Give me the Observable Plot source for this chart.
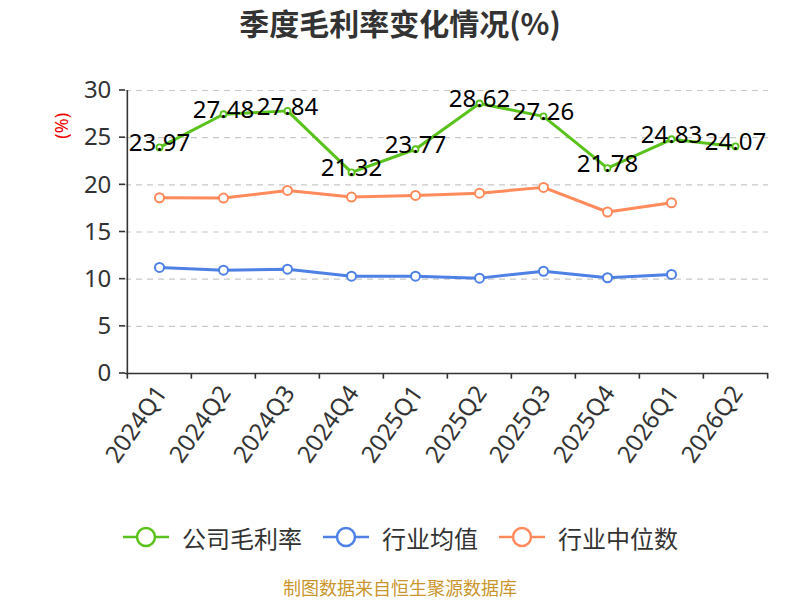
<!DOCTYPE html>
<html><head><meta charset="utf-8">
<script src="https://cdn.jsdelivr.net/npm/d3@7"></script>
<script src="https://cdn.jsdelivr.net/npm/@observablehq/plot@0.6"></script>
<style>
body{margin:0;background:#fff;font-family:"Noto Sans","Noto Sans CJK SC",sans-serif;width:800px;}
#title{height:45px;line-height:44px;text-align:center;font-size:30px;font-weight:bold;color:#333;font-family:"Noto Sans CJK SC",sans-serif;}
#legend{height:44px;display:flex;justify-content:center;align-items:center;gap:0;font-size:24px;color:#333;font-family:"Noto Sans CJK SC",sans-serif;}
.item{display:flex;align-items:center;margin:0 10px;}
.item svg{margin-right:12px;}
#footer{text-align:center;font-size:18px;color:#c9962c;margin-top:15px;font-family:"Noto Sans CJK SC",sans-serif;}
</style></head>
<body>
<div id="title">季度毛利率变化情况(%)</div>
<div id="chart"></div>
<div id="legend"></div>
<div id="footer">制图数据来自恒生聚源数据库</div>
<script>
const quarters = ["2024Q1","2024Q2","2024Q3","2024Q4","2025Q1","2025Q2","2025Q3","2025Q4","2026Q1","2026Q2"];
const companyMargin = [23.97,27.48,27.84,21.32,23.77,28.62,27.26,21.78,24.83,24.07];
const industryAvg = [11.24,10.95,11.06,10.32,10.32,10.11,10.84,10.15,10.50];
const industryMedian = [18.63,18.60,19.41,18.70,18.88,19.12,19.73,17.12,18.10];
const seriesNames = ["公司毛利率","行业均值","行业中位数"];
const colors = ["#5ac21c","#4e80e6","#ff8a5b"];
const yTicks = [0,5,10,15,20,25,30];

const comp = quarters.map((q,i)=>({q, v: companyMargin[i]}));
const avg = industryAvg.map((v,i)=>({q: quarters[i], v}));
const med = industryMedian.map((v,i)=>({q: quarters[i], v}));

const W = 800, H = 470, mL = 125, mR = 32, mT = 45, mB = 142;
const half = (W - mL - mR) / quarters.length / 2;
const font = '"Noto Sans","Noto Sans CJK SC",sans-serif';

const chart = Plot.plot({
  width: W, height: H,
  marginLeft: mL, marginRight: mR, marginTop: mT, marginBottom: mB,
  style: {fontFamily: font, background: "#fff", overflow: "visible"},
  x: {type: "point", domain: quarters, padding: 0.5, axis: null},
  y: {domain: [0,30], axis: null},
  marks: [
    Plot.ruleY(yTicks.filter(d=>d>0), {stroke: "#c8c8c8", strokeDasharray: "6,5", strokeWidth: 1.2}),
    Plot.ruleY([0], {stroke: "#333", strokeWidth: 1.6}),
    Plot.ruleX([quarters[0]], {y1: 0, y2: 30, dx: -half, stroke: "#333", strokeWidth: 1.6}),
    Plot.ruleX(quarters, {y1: 0, y2: -0.6, dx: -half, stroke: "#333", strokeWidth: 1.6}),
    Plot.ruleX([quarters[quarters.length-1]], {y1: 0, y2: -0.6, dx: half, stroke: "#333", strokeWidth: 1.6}),
    Plot.text(yTicks, {x: () => quarters[0], y: d=>d, text: d=>String(d), dx: -half - 16, textAnchor: "end", fontSize: 24, fill: "#333"}),
    Plot.text(quarters, {x: d=>d, y: 0, text: d=>d, dy: 15, dx: 2, rotate: -55, textAnchor: "end", lineAnchor: "middle", fontSize: 24, fill: "#333"}),
    Plot.line(med, {x: "q", y: "v", stroke: colors[2], strokeWidth: 3}),
    Plot.line(avg, {x: "q", y: "v", stroke: colors[1], strokeWidth: 3}),
    Plot.line(comp, {x: "q", y: "v", stroke: colors[0], strokeWidth: 3}),
    Plot.dot(med, {x: "q", y: "v", r: 4.5, fill: "#fff", stroke: colors[2], strokeWidth: 2}),
    Plot.dot(avg, {x: "q", y: "v", r: 4.5, fill: "#fff", stroke: colors[1], strokeWidth: 2}),
    Plot.dot(comp, {x: "q", y: "v", r: 3, fill: "#fff", stroke: colors[0], strokeWidth: 1.8}),
    Plot.text(comp, {x: "q", y: "v", text: d=>d.v.toFixed(2), dy: -4, fontSize: 24, fill: "#000", lineAnchor: "middle"})
  ]
});
document.getElementById("chart").appendChild(chart);

const ys = chart.scale("y");
const svg = d3.select(chart);
yTicks.forEach(t=>{
  svg.append("line").attr("x1", mL-6).attr("x2", mL).attr("y1", ys.apply(t)).attr("y2", ys.apply(t))
    .attr("stroke","#333").attr("stroke-width",1.6);
});
svg.append("text").attr("transform", `translate(${mL-62},${ys.apply(26.2)}) rotate(-90)`)
  .attr("text-anchor","middle").attr("dominant-baseline","middle")
  .attr("fill","#e00").attr("font-size",18).attr("font-family",font).text("(%)");

const leg = document.getElementById("legend");
seriesNames.forEach((n,i)=>{
  const d = document.createElement("div"); d.className = "item";
  d.innerHTML = `<svg width="48" height="24"><line x1="1" x2="47" y1="12" y2="12" stroke="${colors[i]}" stroke-width="2.5"/><circle cx="24" cy="12" r="9" fill="#fff" stroke="${colors[i]}" stroke-width="2.5"/></svg><span>${n}</span>`;
  leg.appendChild(d);
});
</script>
</body></html>
